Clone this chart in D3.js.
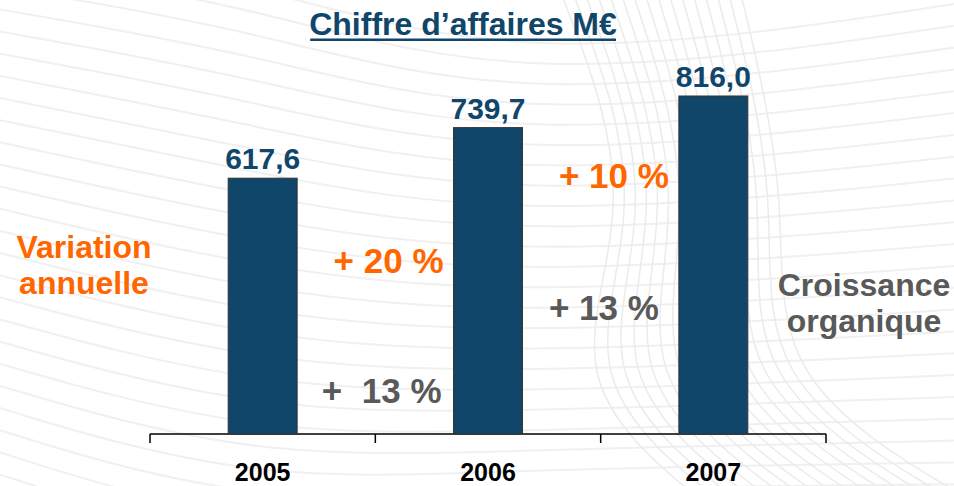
<!DOCTYPE html>
<html>

<head>
	<meta charset="utf-8">
	<title>Chiffre d'affaires M€</title>
	<script src="https://d3js.org/d3.v7.min.js"></script>
	<style>
		body { margin: 0; background: #fff; }
		text { font-family: "Liberation Sans", Arial, sans-serif; font-weight: bold; }
	</style>
</head>

<body>
	<script>
		// Data
		const years = ['2005', '2006', '2007'];
		const revenue = [617.6, 739.7, 816.0];
		const revenueLabels = ['617,6', '739,7', '816,0'];
		// growth shown in the gap before each year (2006, 2007)
		const growthYears = ['2006', '2007'];
		const annualGrowth = ['+ 20 %', '+ 10 %'];
		const organicGrowth = ['+  13 %', '+ 13 %'];

		const width = 954;
		const height = 486;
		const navy = '#11466b';
		const orange = '#ff6600';
		const grey = '#595959';

		const svg = d3.select('body')
			.append('svg')
			.attr('width', width)
			.attr('height', height);

		// Light decorative swoosh lines in the background
		const bg = svg.append('g').attr('fill', 'none');
		const curve = d3.line().curve(d3.curveBasis);
		for (let i = 0; i < 26; i++) {
			const y0 = -60 + i * 22;
			bg.append('path')
				.attr('d', curve([[-20, y0], [250, y0 + 40 + i * 2], [520, y0 + 130 - i * 3], [980, y0 + 60]]))
				.attr('stroke', '#f0f0f0')
				.attr('stroke-width', 2);
		}
		for (let i = 0; i < 16; i++) {
			bg.append('path')
				.attr('d', curve([[560 + i * 12, -10], [640 + i * 10, 200], [560 + i * 14, 380], [700 + i * 18, 500]]))
				.attr('stroke', '#ebebeb')
				.attr('stroke-width', 1.5);
		}

		// Scales
		const x = d3.scaleBand()
			.domain(years)
			.range([150, 826])
			.paddingInner(0.694)
			.paddingOuter(0.347);

		const y = d3.scaleLinear()
			.domain([0, 816])
			.range([434, 96]);

		// Axis line with ticks at category boundaries
		const bounds = d3.range(years.length + 1).map(i => 150 + i * x.step());
		svg.append('line')
			.attr('x1', bounds[0]).attr('x2', bounds[bounds.length - 1])
			.attr('y1', y(0)).attr('y2', y(0))
			.attr('stroke', '#000').attr('stroke-width', 1.5);
		svg.selectAll('.tick')
			.data(bounds)
			.enter()
			.append('line')
			.attr('x1', d => d).attr('x2', d => d)
			.attr('y1', y(0)).attr('y2', y(0) + 9)
			.attr('stroke', '#000').attr('stroke-width', 1.5);

		// Bars
		svg.selectAll('rect.bar')
			.data(revenue)
			.enter()
			.append('rect')
			.attr('class', 'bar')
			.attr('x', (d, i) => x(years[i]))
			.attr('y', d => y(d))
			.attr('width', x.bandwidth())
			.attr('height', d => y(0) - y(d))
			.attr('fill', navy)
			.attr('stroke', '#333')
			.attr('stroke-width', 1);

		// Value labels
		svg.selectAll('text.value')
			.data(revenue)
			.enter()
			.append('text')
			.attr('x', (d, i) => x(years[i]) + x.bandwidth() / 2)
			.attr('y', d => y(d) - 9)
			.attr('text-anchor', 'middle')
			.attr('font-size', 30)
			.attr('fill', navy)
			.text((d, i) => revenueLabels[i]);

		// Year labels
		svg.selectAll('text.year')
			.data(years)
			.enter()
			.append('text')
			.attr('x', d => x(d) + x.bandwidth() / 2)
			.attr('y', 481)
			.attr('text-anchor', 'middle')
			.attr('font-size', 25)
			.attr('fill', '#000')
			.text(d => d);

		// Title (underlined)
		const title = svg.append('text')
			.attr('x', 463)
			.attr('y', 35)
			.attr('text-anchor', 'middle')
			.attr('font-size', 32)
			.attr('fill', navy)
			.text('Chiffre d’affaires M€');
		const tb = title.node().getBBox();
		svg.append('rect')
			.attr('x', tb.x + 1).attr('y', 38.5)
			.attr('width', tb.width - 2).attr('height', 2.5)
			.attr('fill', navy);

		// Growth annotations, right-aligned against each bar's left edge
		const annualY = [273, 188];
		const organicY = [403, 320];
		const organicDx = [-12, -20];
		growthYears.forEach((yr, i) => {
			svg.append('text')
				.attr('x', x(yr) - 10)
				.attr('y', annualY[i])
				.attr('text-anchor', 'end')
				.attr('font-size', 35)
				.attr('fill', orange)
				.text(annualGrowth[i]);
			svg.append('text')
				.attr('x', x(yr) + organicDx[i])
				.attr('y', organicY[i])
				.attr('text-anchor', 'end')
				.attr('font-size', 35)
				.attr('fill', grey)
				.style('white-space', 'pre')
				.text(organicGrowth[i]);
		});

		// Side captions
		svg.append('text')
			.attr('x', 84).attr('y', 258)
			.attr('text-anchor', 'middle')
			.attr('font-size', 32)
			.attr('fill', orange)
			.selectAll('tspan')
			.data(['Variation', 'annuelle'])
			.enter()
			.append('tspan')
			.attr('x', 84)
			.attr('dy', (d, i) => i ? 36 : 0)
			.text(d => d);

		svg.append('text')
			.attr('x', 864).attr('y', 296)
			.attr('text-anchor', 'middle')
			.attr('font-size', 32)
			.attr('fill', grey)
			.selectAll('tspan')
			.data(['Croissance', 'organique'])
			.enter()
			.append('tspan')
			.attr('x', 864)
			.attr('dy', (d, i) => i ? 36 : 0)
			.text(d => d);
	</script>
</body>

</html>
